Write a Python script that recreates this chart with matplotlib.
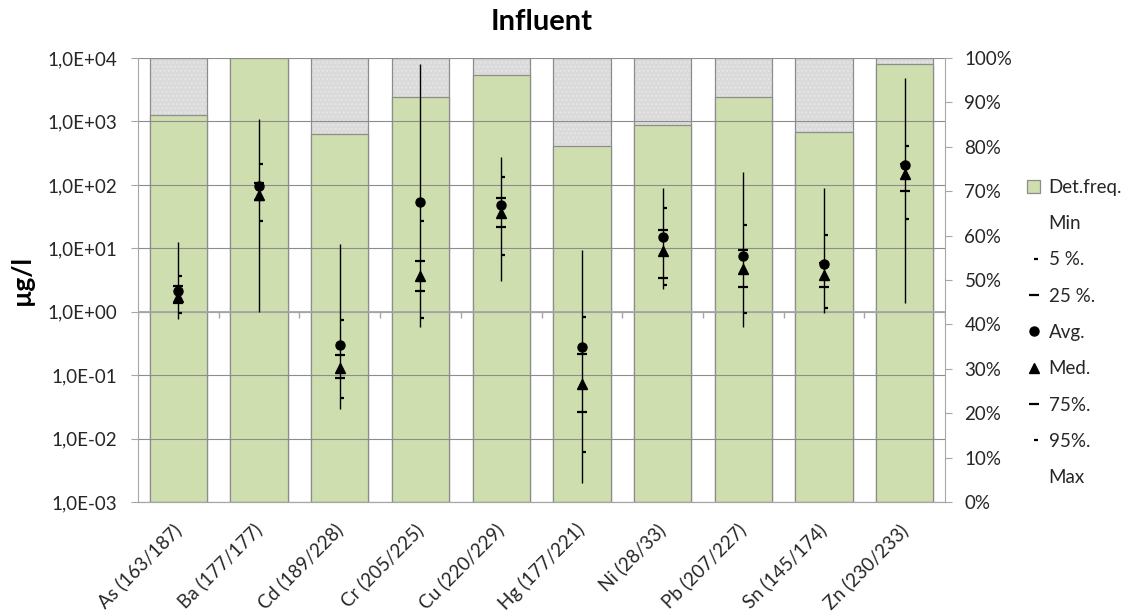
import numpy as np
import matplotlib
matplotlib.use("Agg")
import matplotlib.pyplot as plt
from matplotlib.path import Path
from matplotlib.lines import Line2D
from matplotlib.patches import Patch
from matplotlib.ticker import FixedLocator, FuncFormatter, NullLocator

plt.rcParams['font.family'] = ['Lato', 'DejaVu Sans']

# data
elements = ["As", "Ba", "Cd", "Cr", "Cu", "Hg", "Ni", "Pb", "Sn", "Zn"]
detected = [163, 177, 189, 205, 220, 177, 28, 207, 145, 230]
total = [187, 177, 228, 225, 229, 221, 33, 227, 174, 233]

v_min = [0.77, 1.0, 0.029, 0.57, 3.05, 0.002, 2.31, 0.57, 0.97, 1.36]
p05 = [0.94, 27, 0.044, 0.81, 7.9, 0.0061, 2.67, 0.94, 1.16, 29]
p25 = [1.39, 57.7, 0.091, 2.1, 21.9, 0.026, 3.4, 2.42, 2.48, 80]
avg = [2.14, 96, 0.295, 53.7, 48, 0.28, 15.1, 7.6, 5.65, 206]
med = [1.72, 69, 0.131, 3.66, 35.6, 0.072, 9.06, 4.76, 3.76, 147]
p75 = [2.54, 106, 0.21, 6.2, 62, 0.218, 19.4, 9.5, 5.9, 210]
p95 = [3.66, 213, 0.74, 26.9, 135, 0.84, 43.6, 23, 16, 415]
v_max = [12.7, 1080, 11.7, 8040, 272, 9.4, 88, 161, 88, 4900]

labels = [f"{e} ({d}/{t})" for e, d, t in zip(elements, detected, total)]
det_freq = np.array(detected) / np.array(total)
x = np.arange(len(elements))

GREEN = '#cfdeae'
GREY = '#dadada'
AXC = '#a6a6a6'
GRIDC = '#8c8c8c'
TXT = '#262626'
FS = 13.5

# small dash to the right of the line (5 % / 95 %)
right_dash = Path([[0, 0], [1, 0]], [Path.MOVETO, Path.LINETO])
down_tick = Path([[0, 0], [0, -1]], [Path.MOVETO, Path.LINETO])

fig = plt.figure(figsize=(11.35, 6.14), dpi=100)
ax = fig.add_axes([0.1216, 0.1824, 0.711, 0.7231])
ax2 = ax.twinx()

# bars on the secondary (percent) axis
w = 0.71
ax2.bar(x, [1.0] * len(x), width=w, color=GREY, edgecolor='#e6e6e6', hatch='....', linewidth=0)
ax2.bar(x, [1.0] * len(x), width=w, facecolor='none', edgecolor='#8c8c8c', linewidth=0.9)
ax2.bar(x, det_freq, width=w, color=GREEN, edgecolor='#8c8c8c', linewidth=0.9)
ax2.set_ylim(0, 1)
ax2.yaxis.set_major_locator(FixedLocator(np.linspace(0, 1, 11)))
ax2.yaxis.set_major_formatter(FuncFormatter(lambda v, p: f"{v * 100:.0f}%"))
ax2.tick_params(axis='y', colors=AXC, labelcolor=TXT, labelsize=FS, length=5, pad=9)

# stats on the primary log axis, drawn in front
ax.set_zorder(ax2.get_zorder() + 1)
ax.patch.set_visible(False)
ax.set_yscale('log')
ax.set_ylim(1e-3, 1e4)
ax.set_xlim(-0.5, len(x) - 0.5)
ax.yaxis.set_major_locator(FixedLocator([10.0 ** e for e in range(-3, 5)]))
ax.yaxis.set_minor_locator(NullLocator())
ax.yaxis.set_major_formatter(FuncFormatter(lambda v, p: f"1,0E{int(round(np.log10(v))):+03d}"))
ax.grid(axis='y', color=GRIDC, linewidth=0.8)
ax.set_axisbelow(True)

# category axis crossing at 1.0
ax.axhline(1.0, color=AXC, linewidth=1.3, zorder=1)
ax.plot(np.arange(-0.5, len(x)), [1.0] * (len(x) + 1), linestyle='none',
        marker=down_tick, markersize=9, markeredgewidth=1, color=AXC, zorder=1)

ax.vlines(x, v_min, v_max, color='black', linewidth=1, zorder=3)
ax.plot(x, p05, linestyle='none', marker=right_dash, markersize=6, markeredgewidth=1.6, color='black', zorder=4)
ax.plot(x, p95, linestyle='none', marker=right_dash, markersize=6, markeredgewidth=1.6, color='black', zorder=4)
ax.plot(x, p25, linestyle='none', marker='_', markersize=6.5, markeredgewidth=1.6, color='black', zorder=4)
ax.plot(x, p75, linestyle='none', marker='_', markersize=6.5, markeredgewidth=1.6, color='black', zorder=4)
ax.plot(x, avg, linestyle='none', marker='o', markersize=6.5, color='black', zorder=5)
ax.plot(x, med, linestyle='none', marker='^', markersize=6.5, color='black', zorder=5)

ax.set_xticks(x)
ax.set_xticklabels(labels, rotation=45, ha='right', va='center', rotation_mode='anchor',
                   fontsize=FS, color=TXT)
ax.tick_params(axis='x', length=0, pad=18)
ax.tick_params(axis='y', colors=AXC, labelcolor=TXT, labelsize=FS, length=5, pad=10)

for a in (ax, ax2):
    for s in ('top', 'bottom', 'left', 'right'):
        a.spines[s].set_color(AXC)
    a.spines['top'].set_visible(False)
ax2.spines['left'].set_visible(False)
ax.spines['right'].set_visible(False)

ax.set_ylabel("µg/l", fontsize=19, fontweight='bold', labelpad=10)
ax.set_title("Influent", fontsize=21, fontweight='bold', pad=20)

handles = [
    Patch(facecolor=GREEN, edgecolor='#8c8c8c', linewidth=0.9),
    Line2D([], [], linestyle='none'),
    Line2D([], [], linestyle='none', marker=right_dash, markersize=6, markeredgewidth=1.6, color='black'),
    Line2D([], [], linestyle='none', marker='_', markersize=6.5, markeredgewidth=1.6, color='black'),
    Line2D([], [], linestyle='none', marker='o', markersize=6.5, color='black'),
    Line2D([], [], linestyle='none', marker='^', markersize=6.5, color='black'),
    Line2D([], [], linestyle='none', marker='_', markersize=6.5, markeredgewidth=1.6, color='black'),
    Line2D([], [], linestyle='none', marker=right_dash, markersize=6, markeredgewidth=1.6, color='black'),
    Line2D([], [], linestyle='none'),
]
names = ["Det.freq.", "Min", "5 %.", "25 %.", "Avg.", "Med.", "75%.", "95%.", "Max"]
fig.legend(handles, names, loc='upper left', bbox_to_anchor=(0.905, 0.709), frameon=False,
           fontsize=FS, labelspacing=1.03, handlelength=0.7, handletextpad=0.45,
           borderpad=0, borderaxespad=0, labelcolor=TXT)

fig.savefig("out.png", dpi=100)
